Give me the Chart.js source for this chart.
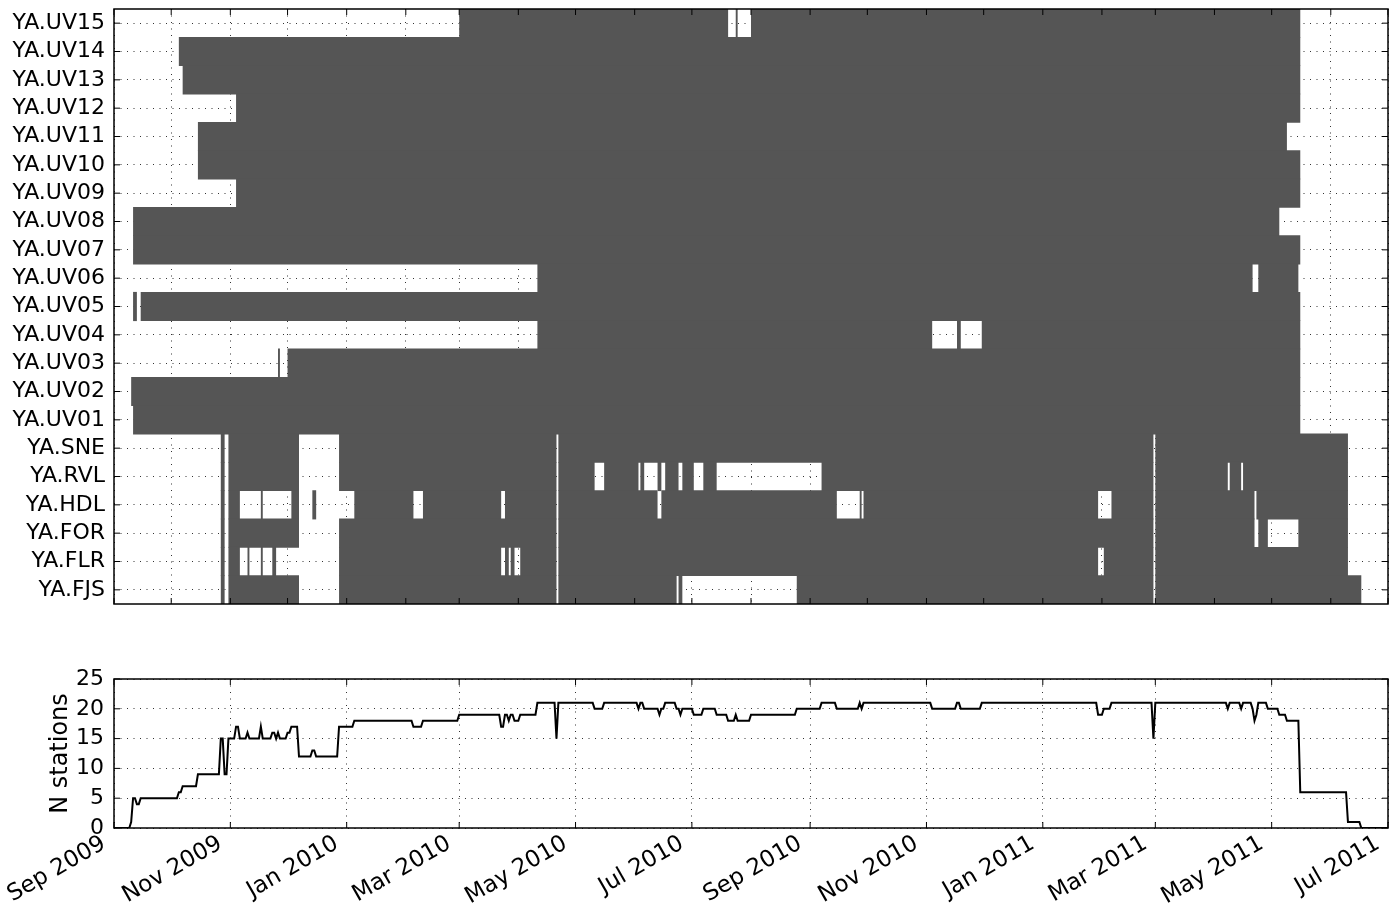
<!DOCTYPE html>
<html>
<head>
<meta charset="utf-8">
<title>Station data availability</title>
<script src="https://cdn.jsdelivr.net/npm/chart.js@4.4.1/dist/chart.umd.min.js"></script>
<style>
  html, body { margin: 0; padding: 0; background: #fff; }
  #wrap { position: relative; width: 1399px; height: 907px; }
  canvas { position: absolute; left: 0; }
  #avail { top: 0; }
  #count { top: 660px; }
</style>
</head>
<body>
<div id="wrap">
  <canvas id="avail" width="1399" height="620"></canvas>
  <canvas id="count" width="1399" height="247"></canvas>
</div>
<script>
// Stations, top row first
const stations = ['YA.UV15', 'YA.UV14', 'YA.UV13', 'YA.UV12', 'YA.UV11', 'YA.UV10', 'YA.UV09',
  'YA.UV08', 'YA.UV07', 'YA.UV06', 'YA.UV05', 'YA.UV04', 'YA.UV03', 'YA.UV02', 'YA.UV01',
  'YA.SNE', 'YA.RVL', 'YA.HDL', 'YA.FOR', 'YA.FLR', 'YA.FJS'];

// Recording periods of each station: [first day with data, first day without]
const uv15 = [['2010-03-01', '2010-07-20'], ['2010-07-24', '2010-07-25'], ['2010-08-01', '2011-05-16']];
const uv14 = [['2009-10-05', '2011-05-16']];
const uv13 = [['2009-10-07', '2011-05-16']];
const uv12 = [['2009-11-04', '2011-05-16']];
const uv11 = [['2009-10-15', '2011-05-09']];
const uv10 = [['2009-10-15', '2011-05-16']];
const uv09 = [['2009-11-04', '2011-05-16']];
const uv08 = [['2009-09-11', '2011-05-05']];
const uv07 = [['2009-09-11', '2011-05-16']];
const uv06 = [['2010-04-11', '2011-04-21'], ['2011-04-24', '2011-05-15']];
const uv05 = [['2009-09-11', '2009-09-13'], ['2009-09-15', '2011-05-16']];
const uv04 = [['2010-04-11', '2010-11-04'], ['2010-11-17', '2010-11-19'], ['2010-11-30', '2011-05-16']];
const uv03 = [['2009-11-26', '2009-11-27'], ['2009-12-01', '2011-05-16']];
const uv02 = [['2009-09-10', '2011-05-16']];
const uv01 = [['2009-09-11', '2011-05-16']];
const sne = [['2009-10-27', '2009-10-29'], ['2009-10-31', '2009-12-07'], ['2009-12-28', '2010-04-21'],
  ['2010-04-22', '2011-02-28'], ['2011-03-01', '2011-06-10']];
const rvl = [['2009-10-27', '2009-10-29'], ['2009-10-31', '2009-12-07'], ['2009-12-28', '2010-04-21'],
  ['2010-04-22', '2010-05-11'], ['2010-05-16', '2010-06-03'], ['2010-06-04', '2010-06-06'],
  ['2010-06-13', '2010-06-15'], ['2010-06-17', '2010-06-24'], ['2010-06-26', '2010-07-02'],
  ['2010-07-07', '2010-07-14'], ['2010-09-07', '2011-02-28'], ['2011-03-01', '2011-04-08'],
  ['2011-04-09', '2011-04-15'], ['2011-04-16', '2011-06-10']];
const hdl = [['2009-10-27', '2009-10-29'], ['2009-10-31', '2009-11-06'], ['2009-11-17', '2009-11-18'],
  ['2009-12-03', '2009-12-07'], ['2009-12-14', '2009-12-16'], ['2010-01-05', '2010-02-05'],
  ['2010-02-10', '2010-03-23'], ['2010-03-25', '2010-04-21'], ['2010-04-22', '2010-06-13'],
  ['2010-06-15', '2010-09-15'], ['2010-09-27', '2010-09-28'], ['2010-09-29', '2011-01-30'],
  ['2011-02-06', '2011-02-28'], ['2011-03-01', '2011-04-22'], ['2011-04-23', '2011-06-10']];
const forStation = [['2009-10-27', '2009-10-29'], ['2009-10-31', '2009-12-07'], ['2009-12-28', '2010-04-21'],
  ['2010-04-22', '2011-02-28'], ['2011-03-01', '2011-04-22'], ['2011-04-24', '2011-04-29'],
  ['2011-05-15', '2011-06-10']];
const flr = [['2009-10-27', '2009-10-29'], ['2009-10-31', '2009-11-06'], ['2009-11-10', '2009-11-11'],
  ['2009-11-17', '2009-11-18'], ['2009-11-23', '2009-11-25'], ['2009-12-28', '2010-03-23'],
  ['2010-03-25', '2010-03-27'], ['2010-03-28', '2010-03-30'], ['2010-04-02', '2010-04-21'],
  ['2010-04-22', '2011-01-30'], ['2011-02-02', '2011-02-28'], ['2011-03-01', '2011-06-10']];
const fjs = [['2009-10-27', '2009-10-29'], ['2009-10-31', '2009-12-07'], ['2009-12-28', '2010-04-21'],
  ['2010-04-22', '2010-06-23'], ['2010-06-24', '2010-06-26'], ['2010-08-25', '2011-02-28'],
  ['2011-03-01', '2011-06-17']];

// Number of stations recording: date the daily count changes, and the new count
const countDates = ['2009-09-01', '2009-09-10', '2009-09-11', '2009-09-13', '2009-09-15', '2009-10-05',
  '2009-10-07', '2009-10-15', '2009-10-27', '2009-10-29', '2009-10-31', '2009-11-04', '2009-11-06',
  '2009-11-10', '2009-11-11', '2009-11-17', '2009-11-18', '2009-11-23', '2009-11-25', '2009-11-26',
  '2009-11-27', '2009-12-01', '2009-12-03', '2009-12-07', '2009-12-14', '2009-12-16', '2009-12-28',
  '2010-01-05', '2010-02-05', '2010-02-10', '2010-03-01', '2010-03-23', '2010-03-25', '2010-03-27',
  '2010-03-28', '2010-03-30', '2010-04-02', '2010-04-11', '2010-04-21', '2010-04-22', '2010-05-11',
  '2010-05-16', '2010-06-03', '2010-06-04', '2010-06-06', '2010-06-14', '2010-06-15', '2010-06-17',
  '2010-06-23', '2010-06-25', '2010-06-26', '2010-07-02', '2010-07-07', '2010-07-14', '2010-07-20',
  '2010-07-24', '2010-07-25', '2010-08-01', '2010-08-25', '2010-09-07', '2010-09-15', '2010-09-27',
  '2010-09-28', '2010-09-29', '2010-11-04', '2010-11-17', '2010-11-19', '2010-11-30', '2011-01-30',
  '2011-02-02', '2011-02-06', '2011-02-28', '2011-03-01', '2011-04-08', '2011-04-09', '2011-04-15',
  '2011-04-16', '2011-04-21', '2011-04-22', '2011-04-23', '2011-04-24', '2011-04-29', '2011-05-05',
  '2011-05-09', '2011-05-16', '2011-06-10', '2011-06-17', '2011-07-01'];
const countValues = [0, 1, 5, 4, 5, 6,
  7, 9, 15, 9, 15, 17, 15,
  16, 15, 17, 15, 16, 15, 16,
  15, 16, 17, 12, 13, 12, 17,
  18, 17, 18, 19, 17, 19, 18,
  19, 18, 19, 21, 15, 21, 20,
  21, 20, 21, 20, 19, 20, 21,
  20, 19, 20, 19, 20, 19, 18,
  19, 18, 19, 20, 21, 20, 21,
  20, 21, 20, 21, 20, 21, 19,
  20, 21, 15, 21, 20, 21, 20,
  21, 20, 18, 19, 21, 20, 19,
  18, 6, 1, 0, 0];

// Month starts along the time axis, and the labels of every second one
const monthStarts = ['2009-09-01', '2009-10-01', '2009-11-01', '2009-12-01', '2010-01-01', '2010-02-01',
  '2010-03-01', '2010-04-01', '2010-05-01', '2010-06-01', '2010-07-01', '2010-08-01', '2010-09-01',
  '2010-10-01', '2010-11-01', '2010-12-01', '2011-01-01', '2011-02-01', '2011-03-01', '2011-04-01',
  '2011-05-01', '2011-06-01', '2011-07-01'];
const dateLabels = ['Sep 2009', 'Nov 2009', 'Jan 2010', 'Mar 2010', 'May 2010', 'Jul 2010',
  'Sep 2010', 'Nov 2010', 'Jan 2011', 'Mar 2011', 'May 2011', 'Jul 2011'];
const countTicks = [0, 5, 10, 15, 20, 25];

const ORIGIN = Date.UTC(2009, 8, 1);
function dayOf(iso) {
  const [y, m, d] = iso.split('-').map(Number);
  return (Date.UTC(y, m - 1, d) - ORIGIN) / 86400000;
}

const FONT = 'DejaVu Sans';
const GRID = 'rgba(0,0,0,0.8)';
const DOTS = [1, 5.5];
const X_MIN = dayOf(monthStarts[0]);
const X_MAX = dayOf(monthStarts[monthStarts.length - 1]);
const monthDays = monthStarts.map(dayOf);
const labelDays = monthDays.filter((_, i) => i % 2 === 0);

const periods = [uv15, uv14, uv13, uv12, uv11, uv10, uv09, uv08, uv07, uv06, uv05, uv04, uv03,
  uv02, uv01, sne, rvl, hdl, forStation, flr, fjs];
const barData = [];
periods.forEach((spans, row) => {
  spans.forEach(([a, b]) => barData.push({ x: [dayOf(a), dayOf(b)], y: stations[row] }));
});

// The count is sampled once a day, so each change is drawn as a one-day ramp
const countLine = [];
countDates.forEach((d, i) => {
  const day = dayOf(d);
  if (i > 0) countLine.push({ x: day - 1, y: countValues[i - 1] });
  countLine.push({ x: day, y: countValues[i] });
});

// Axes box with short tick marks pointing inwards on all four sides
const frame = {
  id: 'frame',
  afterDraw(chart) {
    const { ctx, chartArea: a, scales } = chart;
    const len = 6;
    ctx.save();
    ctx.strokeStyle = '#000';
    ctx.lineWidth = 1;
    ctx.beginPath();
    scales.x.ticks.forEach((_, i) => {
      const px = scales.x.getPixelForTick(i);
      ctx.moveTo(px, a.top); ctx.lineTo(px, a.top + len);
      ctx.moveTo(px, a.bottom); ctx.lineTo(px, a.bottom - len);
    });
    scales.y.ticks.forEach((_, i) => {
      const py = scales.y.getPixelForTick(i);
      ctx.moveTo(a.left, py); ctx.lineTo(a.left + len, py);
      ctx.moveTo(a.right, py); ctx.lineTo(a.right - len, py);
    });
    ctx.stroke();
    ctx.lineWidth = 1.5;
    ctx.strokeRect(a.left, a.top, a.right - a.left, a.bottom - a.top);
    ctx.restore();
  }
};

const fixX = h => s => { s.height = h; s.paddingLeft = 0; s.paddingRight = 0; };
const fixY = s => { s.width = 114; s.paddingTop = 0; s.paddingBottom = 0; };

new Chart(document.getElementById('avail'), {
  type: 'bar',
  data: {
    labels: stations,
    datasets: [{
      data: barData,
      backgroundColor: '#555555',
      borderWidth: 0,
      barPercentage: 1.03,
      categoryPercentage: 1,
      inflateAmount: 0
    }]
  },
  options: {
    indexAxis: 'y',
    responsive: false,
    animation: false,
    events: [],
    layout: { padding: { top: 9, right: 11, bottom: 16, left: 0 } },
    plugins: { legend: { display: false }, tooltip: { enabled: false } },
    scales: {
      x: {
        type: 'linear',
        min: X_MIN,
        max: X_MAX,
        afterBuildTicks: s => { s.ticks = monthDays.map(v => ({ value: v })); },
        afterFit: fixX(0),
        ticks: { display: false },
        grid: { color: GRID, lineWidth: 1, drawTicks: false },
        border: { display: false, dash: DOTS }
      },
      y: {
        type: 'category',
        offset: true,
        afterFit: fixY,
        ticks: { color: '#000', font: { family: FONT, size: 22 }, padding: 9, autoSkip: false },
        grid: { color: GRID, lineWidth: 1, offset: false, drawTicks: false },
        border: { display: false, dash: DOTS }
      }
    }
  },
  plugins: [frame]
});

new Chart(document.getElementById('count'), {
  type: 'line',
  data: {
    datasets: [{
      data: countLine,
      borderColor: '#000',
      borderWidth: 2,
      pointRadius: 0,
      fill: false
    }]
  },
  options: {
    responsive: false,
    animation: false,
    events: [],
    layout: { padding: { top: 19, right: 11, bottom: 0, left: 0 } },
    plugins: { legend: { display: false }, tooltip: { enabled: false } },
    scales: {
      x: {
        type: 'linear',
        min: X_MIN,
        max: X_MAX,
        afterBuildTicks: s => { s.ticks = labelDays.map(v => ({ value: v })); },
        afterFit: fixX(79),
        ticks: {
          color: '#000', font: { family: FONT, size: 23 },
          maxRotation: 30, minRotation: 30, autoSkip: false,
          padding: 2, labelOffset: -10,
          callback: (v, i) => dateLabels[i]
        },
        grid: { color: GRID, lineWidth: 1, drawTicks: false },
        border: { display: false, dash: DOTS }
      },
      y: {
        type: 'linear',
        min: 0,
        max: 25,
        afterBuildTicks: s => { s.ticks = countTicks.map(v => ({ value: v })); },
        afterFit: fixY,
        ticks: { color: '#000', font: { family: FONT, size: 22 }, padding: 10, autoSkip: false },
        title: { display: true, text: 'N stations', color: '#000', font: { family: FONT, size: 24 }, padding: { top: 46 } },
        grid: { color: GRID, lineWidth: 1, drawTicks: false },
        border: { display: false, dash: DOTS }
      }
    }
  },
  plugins: [frame]
});
</script>
</body>
</html>
